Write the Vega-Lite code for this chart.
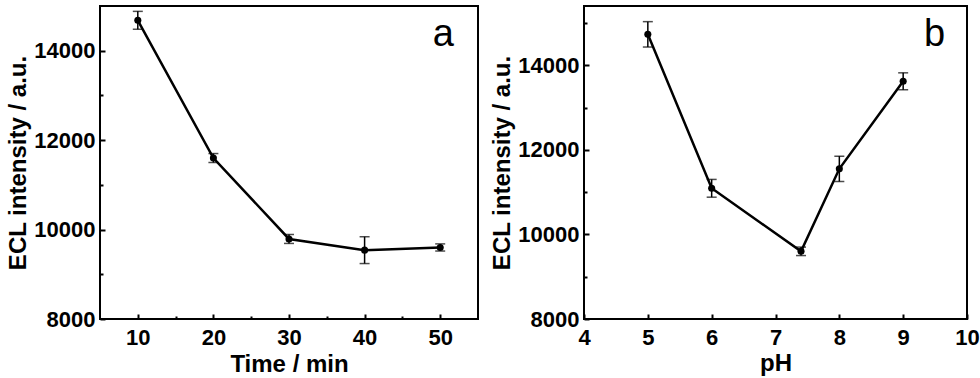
{
  "$schema": "https://vega.github.io/schema/vega-lite/v6.json",
  "background": "white",
  "padding": 5,
  "bounds": "flush",
  "spacing": 106,
  "config": {
    "font": "Liberation Sans",
    "view": {"stroke": "black", "strokeWidth": 2},
    "axis": {
      "domain": false,
      "grid": false,
      "labelFontSize": 22,
      "labelFontWeight": "bold",
      "labelColor": "black",
      "titleFontSize": 24,
      "titleFontWeight": "bold",
      "titleColor": "black",
      "tickColor": "black",
      "tickWidth": 2,
      "labelFlush": false,
      "labelOverlap": false,
      "format": "d"
    }
  },
  "hconcat": [
    {
      "width": 378,
      "height": 313,
      "layer": [
        {
          "data": {"values": [
            {"time": 10, "intensity": 14680, "err": 200},
            {"time": 20, "intensity": 11600, "err": 100},
            {"time": 30, "intensity": 9790, "err": 100},
            {"time": 40, "intensity": 9540, "err": 300},
            {"time": 50, "intensity": 9600, "err": 80}
          ]},
          "encoding": {
            "x": {"field": "time", "type": "quantitative", "scale": {"domain": [5, 55], "nice": false, "zero": false},
              "axis": {"title": "Time / min", "values": [10, 15, 20, 25, 30, 35, 40, 45, 50],
                "labelExpr": "datum.value % 10 == 0 ? datum.label : ''",
                "tickSize": {"condition": {"test": "datum.value % 10 == 0", "value": -5}, "value": -3},
                "labelPadding": 13, "titlePadding": 2}},
            "y": {"field": "intensity", "type": "quantitative", "scale": {"domain": [8000, 15000], "nice": false, "zero": false},
              "axis": {"title": "ECL intensity / a.u.", "values": [8000, 9000, 10000, 11000, 12000, 13000, 14000],
                "labelExpr": "datum.value % 2000 == 0 ? datum.label : ''",
                "tickSize": {"condition": {"test": "datum.value % 2000 == 0", "value": -5}, "value": -3},
                "labelPadding": 10, "titlePadding": 3}}
          },
          "layer": [
            {"mark": {"type": "line", "color": "black", "strokeWidth": 2.5}},
            {"mark": {"type": "errorbar", "color": "black", "thickness": 1.5, "ticks": {"size": 10, "color": "black", "thickness": 1.5}},
              "encoding": {"yError": {"field": "err"}}},
            {"mark": {"type": "point", "filled": true, "color": "black", "size": 50, "opacity": 1}}
          ]
        },
        {
          "data": {"values": [{}]},
          "mark": {"type": "text", "text": "a", "fontSize": 38, "color": "black", "baseline": "alphabetic", "align": "center"},
          "encoding": {
            "x": {"datum": 50.4, "type": "quantitative"},
            "y": {"datum": 14110, "type": "quantitative"}
          }
        }
      ]
    },
    {
      "width": 383,
      "height": 313,
      "layer": [
        {
          "data": {"values": [
            {"pH": 5, "intensity": 14730, "err": 300},
            {"pH": 6, "intensity": 11090, "err": 210},
            {"pH": 7.4, "intensity": 9600, "err": 100},
            {"pH": 8, "intensity": 11550, "err": 300},
            {"pH": 9, "intensity": 13620, "err": 200}
          ]},
          "encoding": {
            "x": {"field": "pH", "type": "quantitative", "scale": {"domain": [4, 10], "nice": false, "zero": false},
              "axis": {"title": "pH", "values": [4, 4.5, 5, 5.5, 6, 6.5, 7, 7.5, 8, 8.5, 9, 9.5, 10],
                "labelExpr": "datum.value % 1 == 0 ? datum.label : ''",
                "tickSize": {"condition": {"test": "datum.value % 1 == 0", "value": -5}, "value": -3},
                "labelPadding": 13, "titlePadding": 3}},
            "y": {"field": "intensity", "type": "quantitative", "scale": {"domain": [8000, 15400], "nice": false, "zero": false},
              "axis": {"title": "ECL intensity / a.u.", "values": [8000, 9000, 10000, 11000, 12000, 13000, 14000, 15000],
                "labelExpr": "datum.value % 2000 == 0 ? datum.label : ''",
                "tickSize": {"condition": {"test": "datum.value % 2000 == 0", "value": -5}, "value": -3},
                "labelPadding": 10, "titlePadding": 3}}
          },
          "layer": [
            {"mark": {"type": "line", "color": "black", "strokeWidth": 2.5}},
            {"mark": {"type": "errorbar", "color": "black", "thickness": 1.5, "ticks": {"size": 10, "color": "black", "thickness": 1.5}},
              "encoding": {"yError": {"field": "err"}}},
            {"mark": {"type": "point", "filled": true, "color": "black", "size": 50, "opacity": 1}}
          ]
        },
        {
          "data": {"values": [{}]},
          "mark": {"type": "text", "text": "b", "fontSize": 38, "color": "black", "baseline": "alphabetic", "align": "center"},
          "encoding": {
            "x": {"datum": 9.49, "type": "quantitative"},
            "y": {"datum": 14460, "type": "quantitative"}
          }
        }
      ]
    }
  ]
}
